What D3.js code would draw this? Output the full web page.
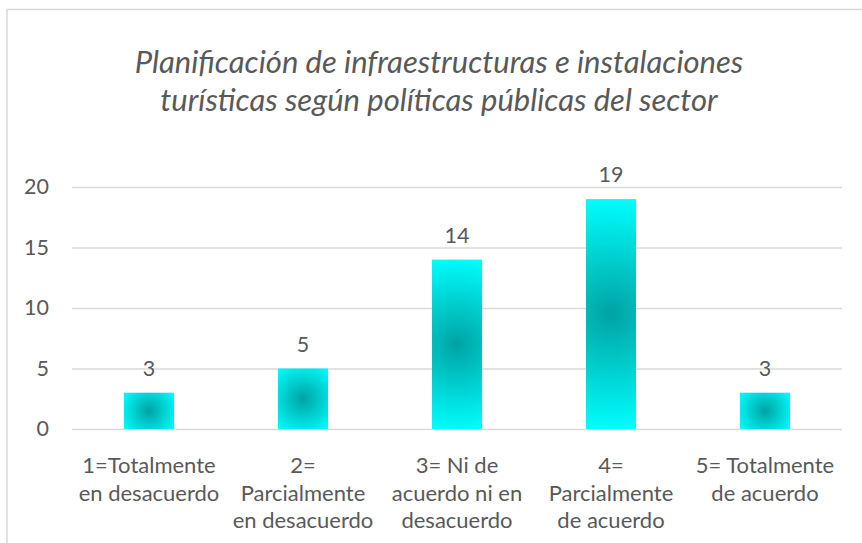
<!DOCTYPE html>
<html>
<head>
<meta charset="utf-8">
<script src="https://cdn.jsdelivr.net/npm/d3@7"></script>
<style>
  html, body { margin: 0; padding: 0; background: #ffffff; }
  svg { display: block; }
  text { font-family: Lato, "Open Sans", sans-serif; fill: #595959; }
</style>
</head>
<body>
<script>
// ---- data ----
const titleLines = ["Planificación de infraestructuras e instalaciones",
                    "turísticas según políticas públicas del sector"];
const categories = [
  ["1=Totalmente", "en desacuerdo"],
  ["2=", "Parcialmente", "en desacuerdo"],
  ["3= Ni de", "acuerdo ni en", "desacuerdo"],
  ["4=", "Parcialmente", "de acuerdo"],
  ["5= Totalmente", "de acuerdo"]
];
const values = [3, 5, 14, 19, 3];
const yTicks = [0, 5, 10, 15, 20];

// ---- layout ----
const W = 862, H = 543;
const plot = { left: 72, right: 842, top: 187, bottom: 429 };

const svg = d3.select("body").append("svg").attr("width", W).attr("height", H);

// chart border
svg.append("rect")
  .attr("x", 7).attr("y", 9.5)
  .attr("width", W).attr("height", H)
  .attr("fill", "#ffffff")
  .attr("stroke", "#d9d9d9").attr("stroke-width", 1.5);

const x = d3.scaleBand()
  .domain(d3.range(categories.length))
  .range([plot.left, plot.right])
  .paddingInner(0.675).paddingOuter(0.3375);

const y = d3.scaleLinear().domain([0, 20]).range([plot.bottom, plot.top]);

// title
svg.append("g").selectAll("text").data(titleLines).join("text")
  .attr("x", 439)
  .attr("y", (d, i) => 73 + i * 38)
  .attr("text-anchor", "middle")
  .attr("font-size", 31)
  .attr("font-style", "italic")
  .text(d => d);

// gridlines + y labels
const yAxis = d3.axisLeft(y).tickValues(yTicks)
  .tickSize(-(plot.right - plot.left)).tickPadding(23);
const gy = svg.append("g").attr("transform", `translate(${plot.left},0)`).call(yAxis);
gy.select(".domain").remove();
gy.selectAll(".tick line").attr("stroke", "#d9d9d9").attr("stroke-width", 1.3);
gy.selectAll(".tick text").attr("font-size", 21.5).attr("fill", "#595959")
  .style("font-family", "Lato, 'Open Sans', sans-serif");

// gradients
const defs = svg.append("defs");
values.forEach((v, i) => {
  const bx = x(i), bw = x.bandwidth(), by = y(v), bh = y(0) - y(v);
  const g = defs.append("radialGradient")
    .attr("id", "grad" + i)
    .attr("gradientUnits", "userSpaceOnUse")
    .attr("cx", bx + bw / 2).attr("cy", by + bh / 2)
    .attr("r", Math.sqrt(bw * bw + bh * bh) / 2);
  g.append("stop").attr("offset", 0).attr("stop-color", "#00a3a3");
  g.append("stop").attr("offset", 1).attr("stop-color", "#00ffff");
});

// bars
svg.append("g").selectAll("rect").data(values).join("rect")
  .attr("x", (d, i) => x(i))
  .attr("y", d => y(d))
  .attr("width", x.bandwidth())
  .attr("height", d => y(0) - y(d))
  .attr("fill", (d, i) => `url(#grad${i})`);

// value labels
svg.append("g").selectAll("text").data(values).join("text")
  .attr("x", (d, i) => x(i) + x.bandwidth() / 2)
  .attr("y", d => y(d) - 17)
  .attr("text-anchor", "middle")
  .attr("font-size", 21.5)
  .text(d => d);

// category labels
const gx = svg.append("g");
categories.forEach((lines, i) => {
  const t = gx.append("text")
    .attr("x", x(i) + x.bandwidth() / 2)
    .attr("y", 473)
    .attr("text-anchor", "middle")
    .attr("font-size", 22);
  lines.forEach((ln, j) => {
    t.append("tspan")
      .attr("x", x(i) + x.bandwidth() / 2)
      .attr("dy", j === 0 ? 0 : 27.5)
      .text(ln);
  });
});
</script>
</body>
</html>
